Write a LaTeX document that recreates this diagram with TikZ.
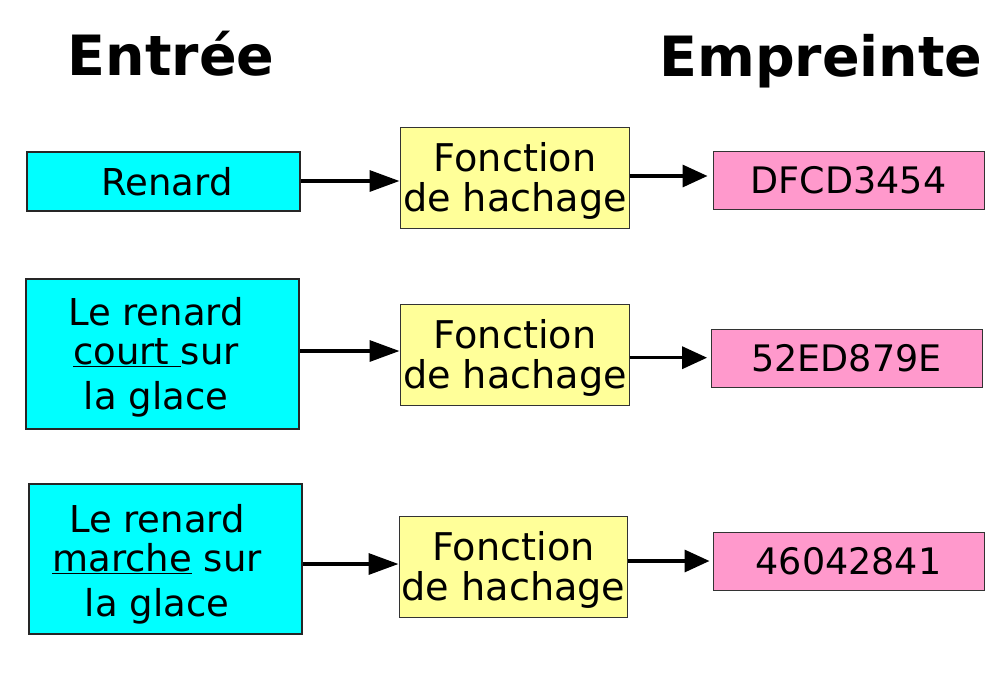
\documentclass[tikz,border=0pt]{standalone}
\usepackage{fontspec}
\setmainfont{DejaVu Sans}
\usetikzlibrary{arrows.meta}
\definecolor{incol}{RGB}{0,255,255}
\definecolor{fncol}{RGB}{255,255,153}
\definecolor{outcol}{RGB}{255,153,204}
\begin{document}
\begin{tikzpicture}[x=1pt,y=-1pt,
  inbox/.style={draw=black!85, line width=2pt, fill=incol, minimum width=273pt, inner sep=0pt},
  fnbox/.style={draw=black!80, line width=1pt, fill=fncol, minimum width=229pt, minimum height=101pt, inner sep=0pt},
  outbox/.style={draw=black!80, line width=1pt, fill=outcol, minimum width=271pt, minimum height=58pt, inner sep=0pt},
  intext/.style={font=\fontsize{37}{39.5}\selectfont, align=center, inner sep=0pt},
  fntext/.style={font=\fontsize{38.2}{40}\selectfont, align=center, inner sep=0pt},
  outtext/.style={font=\fontsize{36.5}{40}\selectfont, inner sep=0pt},
  titletext/.style={font=\fontsize{55.5}{60}\selectfont\bfseries, anchor=base, inner sep=0pt},
  arrA/.style={line width=3.4pt, -{Triangle[length=30pt,width=21pt]}},
  arrB/.style={line width=3.4pt, -{Triangle[length=25pt,width=22pt]}}
]
\useasboundingbox (0,0) rectangle (1000,677);

% titles
\node[titletext] (tin) at (171,75) {Entrée};
\node[titletext] (tout) at (821,76) {Empreinte};

% row 1
\node[inbox, minimum height=59pt] (in1) at (163.5,181.5) {};
\node[intext] (in1t) at (167,181.5) {Renard};
\node[fnbox] (fn1) at (514.5,178) {};
\node[fntext] (fn1t) at (515,181.2) {Fonction\\de hachage};
\node[outbox] (out1) at (848.5,180) {};
\node[outtext] (out1t) at (848.5,180) {DFCD3454};

% row 2
\node[inbox, minimum height=150pt] (in2) at (162.5,354) {};
\node[intext] (in2t) at (156,357) {Le renard\\\underline{court }sur\\[5pt]la glace};
\node[fnbox] (fn2) at (514.5,354.5) {};
\node[fntext] (fn2t) at (515,357.7) {Fonction\\de hachage};
\node[outbox] (out2) at (846.5,358) {};
\node[outtext] (out2t) at (846.5,358) {52ED879E};

% row 3
\node[inbox, minimum height=150pt] (in3) at (165.5,559) {};
\node[intext] (in3t) at (157,563.8) {Le renard\\\underline{marche} sur\\[5pt]la glace};
\node[fnbox, minimum width=228pt] (fn3) at (513,566.5) {};
\node[fntext] (fn3t) at (513.5,569.7) {Fonction\\de hachage};
\node[outbox] (out3) at (848.5,561) {};
\node[outtext] (out3t) at (848.5,561) {46042841};

% arrows
\draw[arrA] ([yshift=0.5pt]in1.east) coordinate (s1) -- (s1 -| fn1.west);
\draw[arrA] ([yshift=3pt]in2.east) coordinate (s2) -- (s2 -| fn2.west);
\draw[arrA] ([yshift=-5pt]in3.east) coordinate (s3) -- (s3 -| fn3.west);
\draw[arrB, shorten >=5pt] ([yshift=2pt]fn1.east) coordinate (r1) -- (r1 -| out1.west);
\draw[arrB, shorten >=3.4pt] ([yshift=-3.2pt]fn2.east) coordinate (r2) -- (r2 -| out2.west);
\draw[arrB, shorten >=3pt] ([yshift=5.5pt]fn3.east) coordinate (r3) -- (r3 -| out3.west);
\end{tikzpicture}
\end{document}
